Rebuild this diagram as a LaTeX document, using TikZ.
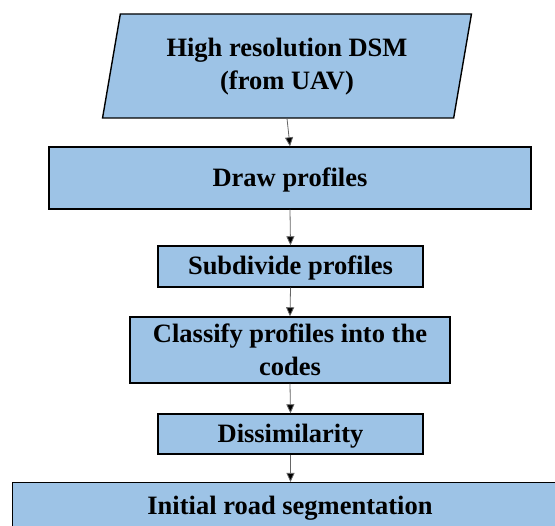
\documentclass[tikz,border=0pt]{standalone}
\usepackage{fontspec}
\setmainfont{Liberation Serif}
\usetikzlibrary{shapes.geometric,arrows.meta}
\definecolor{boxblue}{RGB}{157,195,230}
% two centred lines, 33pt apart, with the box baseline on the first line
\newcommand\twolines[2]{\vtop{\baselineskip=33pt\halign{\hfil##\hfil\cr#1\cr#2\cr}}}
\tikzset{
  x=1pt, y=1pt,
  labelfont/.style={font=\bfseries\fontsize{26.5}{33}\selectfont},
  base/.style={draw=black, line width=1.4pt, fill=boxblue, inner sep=0pt,
    labelfont},
  stepbox/.style={base, rectangle, text height=20pt, text depth=2pt},
  inputbox/.style={base, trapezium, trapezium left angle=77.5,
    trapezium right angle=102.5, trapezium stretches=true},
  flow/.style={draw=black!60, line width=0.8pt,
    -{Triangle[length=9pt,width=8pt,fill=black]}}
}
\begin{document}
\begin{tikzpicture}
\useasboundingbox (0,0) rectangle (555,-526);
\clip (0,0) rectangle (555,-526);
\node[inputbox, minimum width=370, minimum height=104,
  text height=20pt, text depth=38pt] (dsm) at (287,-66)
  {\twolines{High resolution DSM}{(from UAV)}};
\node[stepbox, minimum width=482, minimum height=62] (draw) at (290,-178)
  {Draw profiles};
\node[stepbox, minimum width=265, minimum height=41, text depth=3pt]
  (sub) at (290.5,-266.5) {Subdivide profiles};
\node[stepbox, minimum width=320, minimum height=66,
  text height=20pt, text depth=34pt] (cls) at (290,-350)
  {\twolines{Classify profiles into the}{codes}};
\node[stepbox, minimum width=265, minimum height=40, text depth=2.6pt]
  (dis) at (290.5,-434) {Dissimilarity};
\node[base, rectangle, minimum width=560, minimum height=80,
  anchor=north west] (seg) at (12,-482) {};
\node[labelfont, anchor=base] (segtext) at (290,-515)
  {Initial road segmentation};
\draw[flow] (dsm.south) -- (draw.north);
\draw[flow] (draw.south) -- (sub.north);
\draw[flow] (sub.south) -- (cls.north);
\draw[flow] (cls.south) -- (dis.north);
\draw[flow] (dis.south) -- (seg.north -| dis.south);
\end{tikzpicture}
\end{document}
